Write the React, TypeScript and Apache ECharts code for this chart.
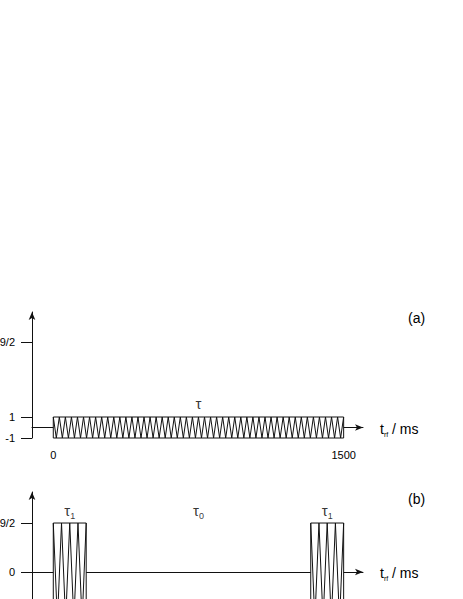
import React, { useEffect, useRef } from 'react';
import * as echarts from 'echarts';

// time axis (ms)
const timeRange = [-110, 1600];
const xTickValues = [0, 1500];

// panel (a): one long pulse [start, end, half-height, cycles]
const pulsesA = [[0, 1500, 1, 48]];
const yRangeA = [-1, 11];
const yTicksA = [-1, 1, 8.14];
const yTickLabelsA = ['-1', '1', '9/2'];
const labelsA = [{ x: 750, y: 2.45, text: '{g|τ}' }];

// panel (b): two short pulses
const pulsesB = [
  [0, 170, 4.5, 4],
  [1330, 1500, 4.5, 4],
];
const yRangeB = [-7.35, 7.35];
const yTicksB = [-4.5, 0, 4.5];
const yLabelValuesB = [0, 4.5];
const yTickLabelsB = ['0', '9/2'];
const labelsB = [
  { x: 85, y: 5.8, text: '{g|τ}{s|1}' },
  { x: 750, y: 5.8, text: '{g|τ}{s|0}' },
  { x: 1415, y: 5.8, text: '{g|τ}{s|1}' },
];

const FONT = '"Liberation Sans", Arial, sans-serif';

const renderPulse = (params: any, api: any) => {
  const s = api.value(0);
  const e = api.value(1);
  const a = api.value(2);
  const n = api.value(3);
  const tl = api.coord([s, a]);
  const br = api.coord([e, -a]);
  const pts: number[][] = [];
  const steps = n * 2;
  for (let i = 0; i <= steps; i++) {
    const t = s + ((e - s) * i) / steps;
    pts.push(api.coord([t, i % 2 === 0 ? a : -a]));
  }
  return {
    type: 'group',
    children: [
      {
        type: 'rect',
        shape: { x: tl[0], y: tl[1], width: br[0] - tl[0], height: br[1] - tl[1] },
        style: { fill: '#fff', stroke: '#111', lineWidth: 1 },
      },
      {
        type: 'polyline',
        shape: { points: pts },
        style: { fill: 'none', stroke: '#111', lineWidth: 1 },
      },
    ],
  };
};

const rich = {
  g: { fontSize: 15, fontFamily: FONT, color: '#000', lineHeight: 18, verticalAlign: 'bottom' },
  s: { fontSize: 9, fontFamily: FONT, color: '#000', lineHeight: 18, verticalAlign: 'bottom', padding: [0, 0, -3, 0] },
};

const nameRich = {
  t: { fontSize: 14, fontFamily: FONT, color: '#000', lineHeight: 16, verticalAlign: 'bottom' },
  s: { fontSize: 7, fontFamily: FONT, color: '#000', lineHeight: 16, verticalAlign: 'bottom', padding: [0, 0, -2, 0] },
};

const mkX = (gridIndex: number, showLabels: boolean) => ({
  type: 'value',
  gridIndex,
  min: timeRange[0],
  max: timeRange[1],
  axisLine: {
    show: true,
    onZero: true,
    symbol: ['none', 'arrow'],
    symbolSize: [5, 8],
    lineStyle: { color: '#111', width: 1 },
  },
  axisTick: { show: false },
  splitLine: { show: false },
  axisLabel: {
    show: showLabels,
    customValues: xTickValues,
    margin: 11,
    fontSize: 11,
    fontFamily: FONT,
    color: '#000',
    formatter: (v: number) => String(Math.round(v)),
  },
  name: '{t|t}{s|rf}{t| / ms}',
  nameLocation: 'end',
  nameGap: 17,
  nameTextStyle: { rich: nameRich, align: 'left', verticalAlign: 'middle' },
});

const mkY = (gridIndex: number, range: number[], ticks: number[], labelValues: number[], labels: string[]) => ({
  type: 'value',
  gridIndex,
  min: range[0],
  max: range[1],
  axisLine: {
    show: true,
    onZero: false,
    symbol: ['none', 'arrow'],
    symbolSize: [5, 8],
    lineStyle: { color: '#111', width: 1 },
  },
  axisTick: { show: true, customValues: ticks, length: 11, lineStyle: { color: '#111', width: 1 } },
  splitLine: { show: false },
  axisLabel: {
    customValues: labelValues,
    margin: 17,
    fontSize: 11,
    fontFamily: FONT,
    color: '#000',
    formatter: (v: number) => {
      let best = 0;
      labelValues.forEach((t, i) => {
        if (Math.abs(t - v) < Math.abs(labelValues[best] - v)) best = i;
      });
      return labels[best];
    },
  },
});

const mkLabels = (xAxisIndex: number, yAxisIndex: number, items: { x: number; y: number; text: string }[]) => ({
  type: 'scatter',
  xAxisIndex,
  yAxisIndex,
  symbolSize: 0,
  silent: true,
  z: 5,
  data: items.map((l) => ({
    value: [l.x, l.y],
    label: { show: true, position: 'inside', formatter: l.text, color: '#000', rich },
  })),
});

export default function App() {
  const ref = useRef<HTMLDivElement>(null);
  useEffect(() => {
    if (!ref.current) return;
    const chart = echarts.init(ref.current, null, { renderer: 'svg' });
    chart.setOption({
      animation: false,
      backgroundColor: '#fff',
      title: [
        { text: '(a)', left: 408, top: 311, textStyle: { fontSize: 14, fontWeight: 'normal', fontFamily: FONT, color: '#000' }, padding: 0 },
        { text: '(b)', left: 408, top: 492, textStyle: { fontSize: 14, fontWeight: 'normal', fontFamily: FONT, color: '#000' }, padding: 0 },
      ],
      grid: [
        { left: 32, right: 100, top: 312, height: 126, outerBoundsMode: 'none', containLabel: false },
        { left: 32, right: 100, top: 492, height: 160, outerBoundsMode: 'none', containLabel: false },
      ],
      xAxis: [mkX(0, true), mkX(1, false)],
      yAxis: [
        mkY(0, yRangeA, yTicksA, yTicksA, yTickLabelsA),
        mkY(1, yRangeB, yTicksB, yLabelValuesB, yTickLabelsB),
      ],
      series: [
        { type: 'custom', xAxisIndex: 0, yAxisIndex: 0, renderItem: renderPulse, data: pulsesA, z: 3 },
        { type: 'custom', xAxisIndex: 1, yAxisIndex: 1, renderItem: renderPulse, data: pulsesB, z: 3 },
        mkLabels(0, 0, labelsA),
        mkLabels(1, 1, labelsB),
      ],
    });
    return () => chart.dispose();
  }, []);
  return (
    <div
      ref={ref}
      style={{ position: 'fixed', left: 0, top: 0, width: 463, height: 599, background: '#fff' }}
    />
  );
}
